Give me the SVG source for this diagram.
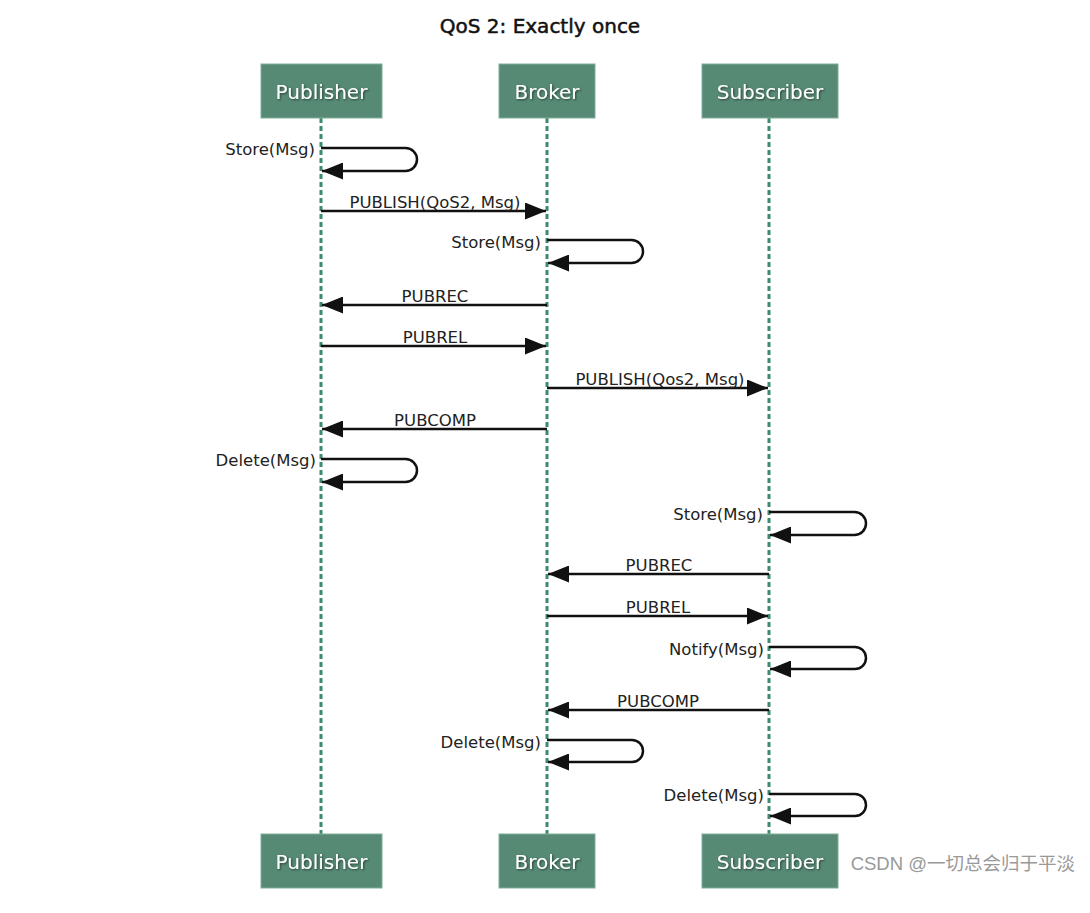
<svg xmlns="http://www.w3.org/2000/svg" width="1090" height="913" viewBox="0 0 1090 913">
<style>
.box{fill:#568a74;stroke:#7fae9a;stroke-width:1}
.bt{font-family:"DejaVu Sans",Verdana,sans-serif;font-size:20px;fill:#fff;text-anchor:middle;filter:url(#sh)}
.life{stroke:#3f8a6c;stroke-width:3;stroke-dasharray:5 3;fill:none}
.msg{stroke:#111;stroke-width:2.5;fill:none;marker-end:url(#ah)}
.lbl{font-family:"DejaVu Sans",Verdana,sans-serif;font-size:16.5px;fill:#222}
.c{text-anchor:middle}
.r{text-anchor:end}
</style>
<defs>
<marker id="ah" viewBox="0 0 21 17" refX="21" refY="8.5" markerWidth="21" markerHeight="17" markerUnits="userSpaceOnUse" orient="auto">
<path d="M0,0 L21,8.5 L0,17 z" fill="#111"/>
</marker>
<filter id="sh" x="-10%" y="-20%" width="120%" height="150%">
<feDropShadow dx="1" dy="1" stdDeviation="0.8" flood-color="#000" flood-opacity="0.55"/>
</filter>
</defs>
<rect width="1090" height="913" fill="#fff"/>
<text x="540" y="33" font-family="DejaVu Sans,Verdana,sans-serif" font-size="20" fill="#111" stroke="#111" stroke-width="0.5" text-anchor="middle">QoS 2: Exactly once</text>
<g id="lifelines">
<line class="life" x1="321" y1="118" x2="321" y2="834"/>
<line class="life" x1="547" y1="118" x2="547" y2="834"/>
<line class="life" x1="769" y1="118" x2="769" y2="834"/>
</g>
<g id="publisher-top"><rect class="box" x="261" y="64" width="121" height="54"/><text class="bt" x="321.5" y="99">Publisher</text></g>
<g id="broker-top"><rect class="box" x="499" y="64" width="96" height="54"/><text class="bt" x="547" y="99">Broker</text></g>
<g id="subscriber-top"><rect class="box" x="702" y="64" width="136" height="54"/><text class="bt" x="770" y="99">Subscriber</text></g>
<g id="publisher-bottom"><rect class="box" x="261" y="834" width="121" height="54"/><text class="bt" x="321.5" y="869">Publisher</text></g>
<g id="broker-bottom"><rect class="box" x="499" y="834" width="96" height="54"/><text class="bt" x="547" y="869">Broker</text></g>
<g id="subscriber-bottom"><rect class="box" x="702" y="834" width="136" height="54"/><text class="bt" x="770" y="869">Subscriber</text></g>
<g id="connectors">
<path class="msg" d="M321,148 H405.5 A11.5,11.5 0 0 1 405.5,171 H322"/>
<path class="msg" d="M321,211 H546"/>
<path class="msg" d="M547,240 H631.5 A11.5,11.5 0 0 1 631.5,263 H548"/>
<path class="msg" d="M547,305 H322"/>
<path class="msg" d="M321,346 H546"/>
<path class="msg" d="M547,388 H768"/>
<path class="msg" d="M547,429 H322"/>
<path class="msg" d="M321,459 H405.5 A11.5,11.5 0 0 1 405.5,482 H322"/>
<path class="msg" d="M769,512 H854.5 A11.5,11.5 0 0 1 854.5,535 H770"/>
<path class="msg" d="M769,574 H548"/>
<path class="msg" d="M547,616 H768"/>
<path class="msg" d="M769,647 H855 A11,11 0 0 1 855,669 H770"/>
<path class="msg" d="M769,710 H548"/>
<path class="msg" d="M547,740 H632 A11,11 0 0 1 632,762 H548"/>
<path class="msg" d="M769,794 H855 A11,11 0 0 1 855,816 H770"/>
</g>
<g id="labels">
<text class="lbl r" x="315" y="155">Store(Msg)</text>
<text class="lbl c" x="435" y="208">PUBLISH(QoS2, Msg)</text>
<text class="lbl r" x="541" y="248">Store(Msg)</text>
<text class="lbl c" x="435" y="302">PUBREC</text>
<text class="lbl c" x="435" y="343">PUBREL</text>
<text class="lbl c" x="660" y="385">PUBLISH(Qos2, Msg)</text>
<text class="lbl c" x="435" y="426">PUBCOMP</text>
<text class="lbl r" x="316" y="466">Delete(Msg)</text>
<text class="lbl r" x="763" y="520">Store(Msg)</text>
<text class="lbl c" x="659" y="571">PUBREC</text>
<text class="lbl c" x="658" y="613">PUBREL</text>
<text class="lbl r" x="764" y="655">Notify(Msg)</text>
<text class="lbl c" x="658" y="707">PUBCOMP</text>
<text class="lbl r" x="541" y="748">Delete(Msg)</text>
<text class="lbl r" x="764" y="801">Delete(Msg)</text>
</g>
<text x="1075" y="870" font-family="Liberation Sans,'Noto Sans CJK SC',sans-serif" font-size="18.5" fill="#999" text-anchor="end">CSDN @一切总会归于平淡</text>
</svg>
